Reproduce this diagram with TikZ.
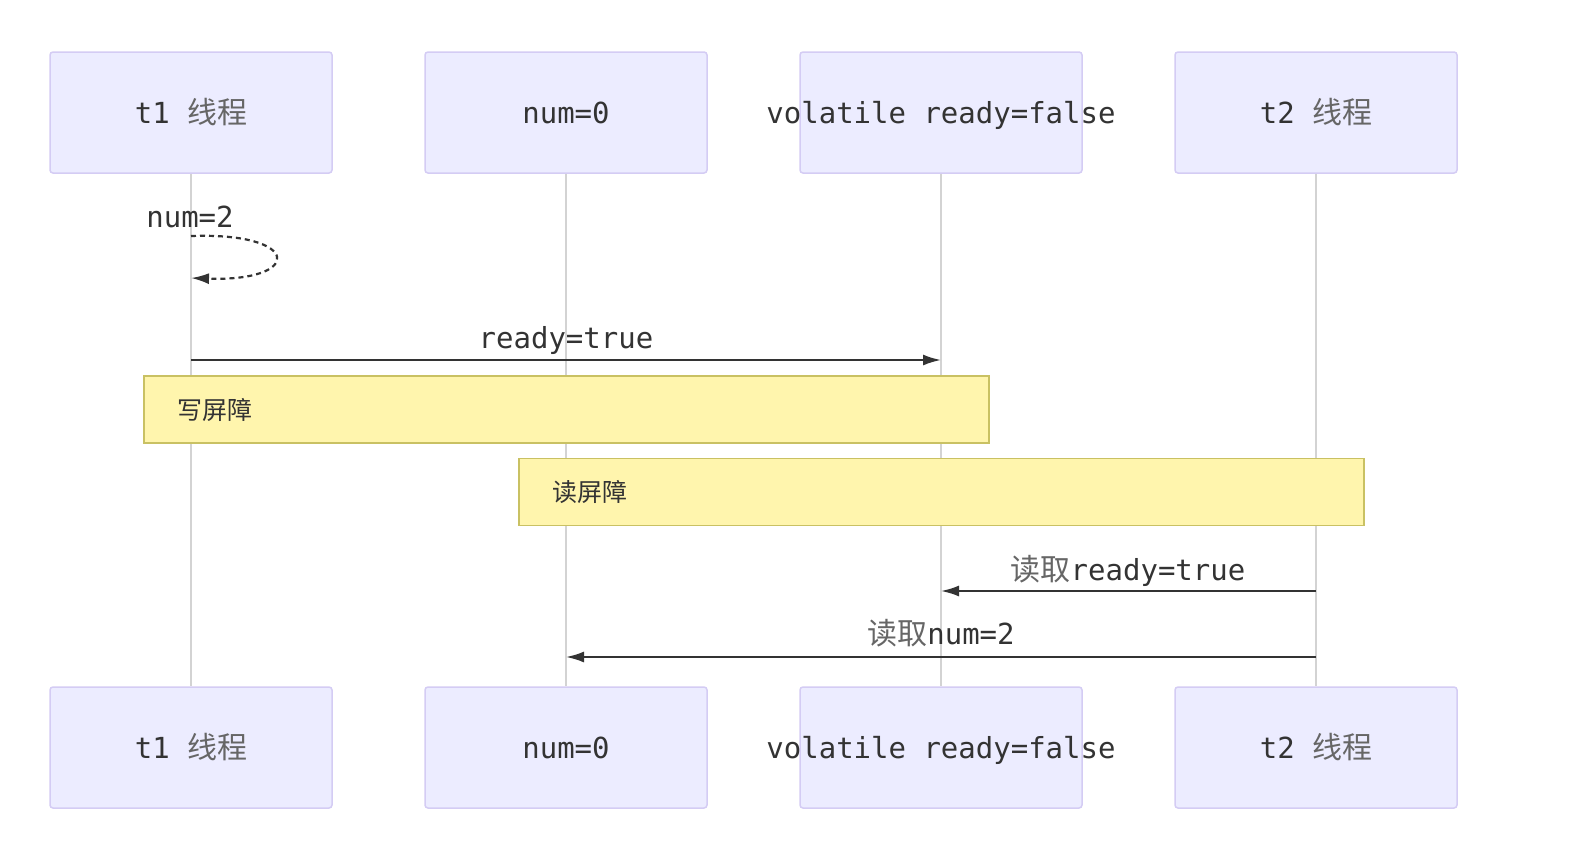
\documentclass[tikz,border=0pt]{standalone}
\usepackage{fontspec}
\newfontfamily\monofamily{DejaVu Sans Mono}
\newfontfamily\cjkfamily{Noto Sans CJK SC}
\usetikzlibrary{arrows.meta}
\definecolor{actorfill}{HTML}{ECECFF}
\definecolor{actorline}{HTML}{D4CCF4}
\definecolor{notefill}{HTML}{FFF5AD}
\definecolor{noteline}{HTML}{C9C163}
\definecolor{lifegray}{HTML}{D3D3D3}
\definecolor{textdark}{HTML}{333333}
\definecolor{cjkgray}{HTML}{666666}
\newcommand\mytt{\monofamily\fontsize{14.5}{17}\selectfont}
\newcommand\mycjk{\cjkfamily\fontsize{15}{17}\selectfont\color{cjkgray}}
\newcommand\notecjk{\cjkfamily\fontsize{12.5}{15}\selectfont\color{textdark}}
\newcommand\boxtext[1]{\raisebox{-5.5pt}[0pt][0pt]{\makebox[0pt]{#1}}}
\tikzset{
  actor/.style={draw=actorline, fill=actorfill, line width=0.75pt, rounded corners=1.5pt,
    minimum width=141pt, minimum height=60.5pt, inner sep=0pt, text=textdark},
  note/.style={draw=noteline, fill=notefill, line width=0.75pt, minimum height=33.5pt,
    inner xsep=17pt, anchor=west, text width=388.5pt, align=left},
  lifeline/.style={draw=lifegray, line width=0.75pt},
  msg/.style={draw=textdark, line width=1pt, -{Latex[length=9pt,width=5.5pt]}},
  lbl/.style={text=textdark, inner sep=0pt}
}
\begin{document}
\begin{tikzpicture}[x=0.5pt, y=-0.5pt]
       \fill[white] (0,0) rectangle (1584,852);
       \useasboundingbox (0,0) rectangle (1584,852);

       % participants, top and bottom
       \draw (191, 112.5) node[actor](t1top){\boxtext{{\mytt t1 }{\mycjk 线程}}}
       (566, 112.5) node[actor](numtop){\boxtext{\mytt num=0}}
       (941, 112.5) node[actor](readytop){\boxtext{\mytt volatile ready=false}}
       (1316, 112.5) node[actor](t2top){\boxtext{{\mytt t2 }{\mycjk 线程}}};
       \draw (191, 747.5) node[actor](t1bot){\boxtext{{\mytt t1 }{\mycjk 线程}}}
       (566, 747.5) node[actor](numbot){\boxtext{\mytt num=0}}
       (941, 747.5) node[actor](readybot){\boxtext{\mytt volatile ready=false}}
       (1316, 747.5) node[actor](t2bot){\boxtext{{\mytt t2 }{\mycjk 线程}}};

       \draw[lifeline] (t1top) -- (t1bot);
       \draw[lifeline] (numtop) -- (numbot);
       \draw[lifeline] (readytop) -- (readybot);
       \draw[lifeline] (t2top) -- (t2bot);

       % self message num=2
       \coordinate (loopa) at (191, 236);
       \coordinate (loopb) at (191, 278);
       \node[lbl] (numtwo) at (190, 217) {\mytt num=2};
       \draw[msg, line width=1.1pt, dash pattern=on 2.5pt off 2pt] (loopa) .. controls (303, 232) and (303, 282) .. (loopb);

       % t1 writes ready
       \coordinate (m1a) at (191, 360);
       \coordinate (m1b) at (941, 360);
       \draw[msg] (m1a) -- (m1b);
       \node[lbl] (m1lbl) at (566, 340) {\mytt ready=true};

       % barriers
       \node[note] (wbar) at (143, 409.5) {\notecjk 写屏障};
       \node[note] (rbar) at (518, 492) {\notecjk 读屏障};

       % t2 reads
       \coordinate (m2a) at (1316, 591);
       \coordinate (m2b) at (941, 591);
       \draw[msg] (m2a) -- (m2b);
       \node[lbl] (m2lbl) at (1128, 570.5) {{\mycjk 读取}{\mytt ready=true}};

       \coordinate (m3a) at (1316, 657);
       \coordinate (m3b) at (566, 657);
       \draw[msg] (m3a) -- (m3b);
       \node[lbl] (m3lbl) at (941, 633) {{\mycjk 读取}{\mytt num=2}};
    \end{tikzpicture}
\end{document}
